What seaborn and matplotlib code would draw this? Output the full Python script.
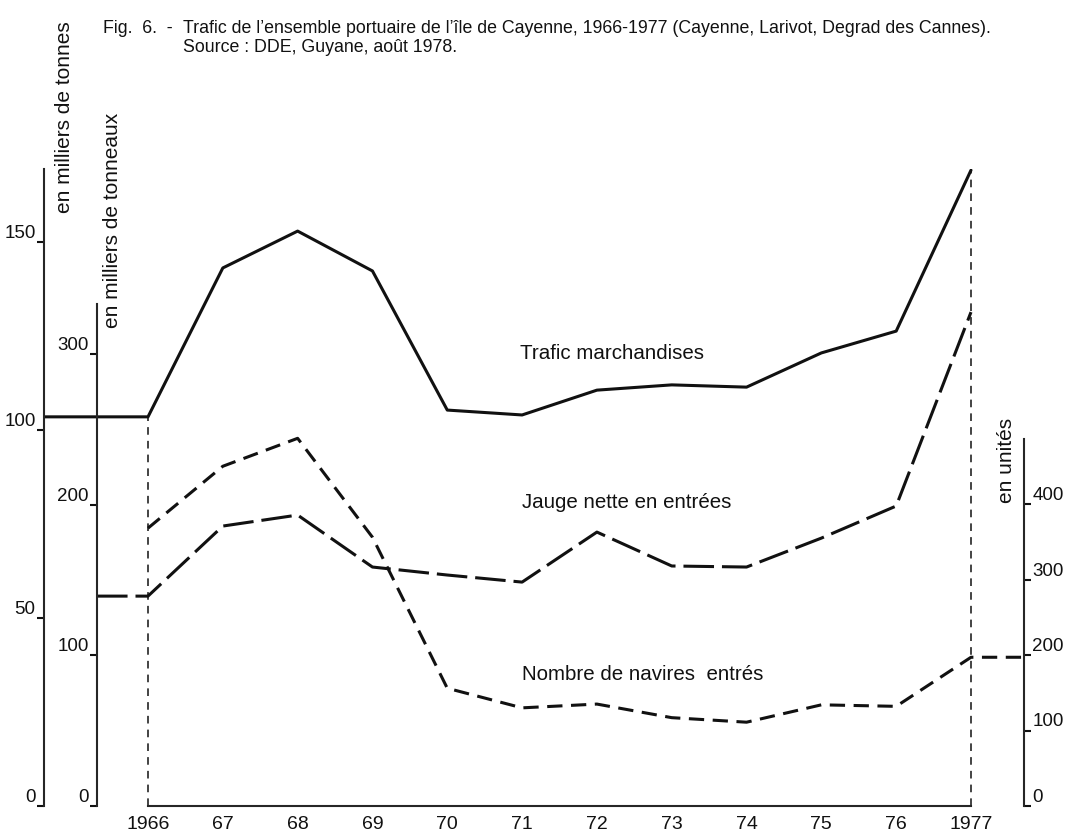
import numpy as np
import pandas as pd
import matplotlib
matplotlib.use("Agg")
import matplotlib.pyplot as plt
import seaborn as sns

# données (1966-1977)
annees = [1966, 1967, 1968, 1969, 1970, 1971, 1972, 1973, 1974, 1975, 1976, 1977]
etiquettes_annees = ["1966", "67", "68", "69", "70", "71", "72", "73", "74", "75", "76", "1977"]
trafic_kt = [103.5, 143.1, 152.9, 142.3, 105.3, 104.0, 110.6, 112.0, 111.4, 120.5, 126.3, 169.1]
jauge_ktx = [139.3, 185.8, 193.1, 158.6, 153.3, 148.6, 181.8, 159.3, 158.6, 177.8, 199.1, 327.8]
navires = [368, 450, 487, 356, 156, 130, 135, 117, 111, 134, 132, 197]

ticks_tonnes = [0, 50, 100, 150]
ticks_tonneaux = [0, 100, 200, 300]
ticks_unites = [0, 100, 200, 300, 400]

sns.set_style("white")
plt.rcParams["font.family"] = ["Liberation Sans", "DejaVu Sans"]

W, H = 1069, 835
fig = plt.figure(figsize=(W / 100, H / 100), dpi=100)

# axe principal : x en années, y en milliers de tonnes
x0_px, x1_px, yb_px, yt_px = 44, 1024, 806, 169
ax = fig.add_axes([x0_px / W, 1 - yb_px / H, (x1_px - x0_px) / W, (yb_px - yt_px) / H])
px_an = (971 - 148) / 11
xmin = 1966 - (148 - x0_px) / px_an
xmax = 1977 + (x1_px - 971) / px_an
ax.set_xlim(xmin, xmax)
ax.set_ylim(0, (yb_px - yt_px) / 3.76)

ax2 = ax.twinx()   # milliers de tonneaux
ax2.set_ylim(0, (yb_px - yt_px) / 1.5067)
ax3 = ax.twinx()   # unités
ax3.set_ylim(0, (yb_px - yt_px) / 0.755)

x_interne = 1966 - (148 - 97) / px_an

for a in (ax, ax2, ax3):
    a.patch.set_visible(False)
    a.grid(False)
    for s in a.spines.values():
        s.set_visible(False)
        s.set_linewidth(1.5)

lw = 2.2
noir = "#111111"
fs_ticks = 13.5

# trafic marchandises (trait plein), prolongé jusqu'à l'axe de gauche
df_t = pd.DataFrame({"x": [xmin] + annees, "y": [trafic_kt[0]] + trafic_kt})
sns.lineplot(data=df_t, x="x", y="y", ax=ax, color=noir, lw=lw, estimator=None)

# jauge nette (tirets longs), prolongée jusqu'au second axe
df_j = pd.DataFrame({"x": [x_interne] + annees, "y": [jauge_ktx[0]] + jauge_ktx})
sns.lineplot(data=df_j, x="x", y="y", ax=ax2, color=noir, lw=lw, estimator=None,
             linestyle=(0, (10, 2.6)))

# nombre de navires (tirets courts), prolongé jusqu'à l'axe de droite
df_n = pd.DataFrame({"x": annees + [xmax], "y": navires + [navires[-1]]})
sns.lineplot(data=df_n, x="x", y="y", ax=ax3, color=noir, lw=lw, estimator=None,
             linestyle=(0, (5, 2.8)))

# repères verticaux 1966 et 1977
ax.vlines([annees[0], annees[-1]], 0, [trafic_kt[0], trafic_kt[-1]],
          colors=noir, linestyles=(0, (5, 4)), lw=1.1)

# axe des x
ax.spines["bottom"].set_visible(True)
ax.spines["bottom"].set_bounds(annees[0], annees[-1])
ax.set_xticks(annees)
ax.set_xticklabels(etiquettes_annees)
ax.tick_params(axis="x", direction="out", length=5, width=1.5, pad=2,
               labelsize=14, color=noir, labelcolor=noir)

# axe gauche extérieur (tonnes)
ax.spines["left"].set_visible(True)
ax.set_yticks(ticks_tonnes)
ax.tick_params(axis="y", direction="out", length=5, width=1.5, pad=1,
               labelsize=fs_ticks, color=noir, labelcolor=noir)

# axe gauche intérieur (tonneaux)
ax2.yaxis.tick_left()
ax2.spines["left"].set_visible(True)
ax2.spines["left"].set_position(("axes", (97 - x0_px) / (x1_px - x0_px)))
ax2.spines["left"].set_bounds(0, (yb_px - 304) / 1.5067)
ax2.set_yticks(ticks_tonneaux)
ax2.tick_params(axis="y", direction="out", length=5, width=1.5, pad=1,
                labelsize=fs_ticks, color=noir, labelcolor=noir)

# axe droit (unités)
ax3.spines["right"].set_visible(True)
ax3.spines["right"].set_bounds(0, (yb_px - 439) / 0.755)
ax3.set_yticks(ticks_unites)
ax3.tick_params(axis="y", direction="out", length=5, width=1.5, pad=1,
                labelsize=fs_ticks, color=noir, labelcolor=noir)

for a in (ax, ax2, ax3):
    a.set_xlabel("")
    a.set_ylabel("")
    for t in a.get_yticklabels():
        t.set_verticalalignment("bottom")

# titres des axes
fig.text(64 / W, 1 - 117 / H, "en milliers de tonnes", rotation=90,
         ha="center", va="center", fontsize=15, color=noir)
fig.text(112 / W, 1 - 220 / H, "en milliers de tonneaux", rotation=90,
         ha="center", va="center", fontsize=15, color=noir)
fig.text(1006 / W, 1 - 460 / H, "en unités", rotation=90,
         ha="center", va="center", fontsize=15, color=noir)

# étiquettes des courbes
fig.text(520 / W, 1 - 353 / H, "Trafic marchandises", ha="left", va="center",
         fontsize=14.8, color=noir)
fig.text(522 / W, 1 - 503 / H, "Jauge nette en entrées", ha="left", va="center",
         fontsize=14.8, color=noir)
fig.text(522 / W, 1 - 675 / H, "Nombre de navires  entrés", ha="left", va="center",
         fontsize=14.8, color=noir)

# légende de la figure
fig.text(103 / W, 1 - 33 / H, "Fig.  6.  -", ha="left", va="baseline",
         fontsize=12.8, color=noir)
fig.text(183 / W, 1 - 33 / H,
         "Trafic de l’ensemble portuaire de l’île de Cayenne, 1966-1977 (Cayenne, Larivot, Degrad des Cannes).",
         ha="left", va="baseline", fontsize=12.8, color=noir)
fig.text(183 / W, 1 - 52 / H, "Source : DDE, Guyane, août 1978.", ha="left",
         va="baseline", fontsize=12.8, color=noir)

fig.savefig("out.png", dpi=100)
